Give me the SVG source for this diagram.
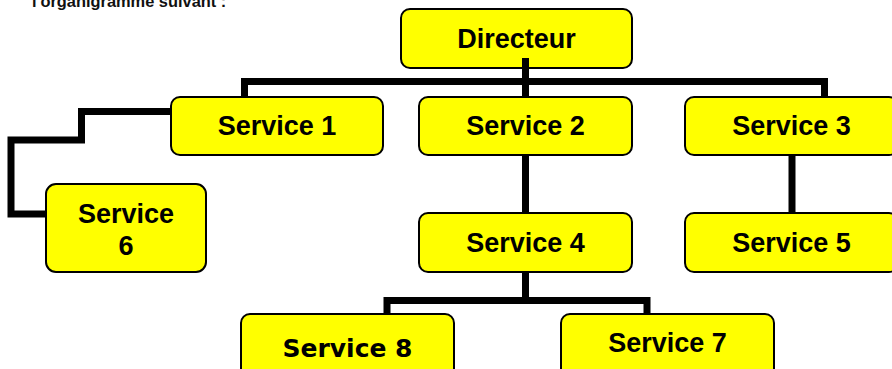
<svg xmlns="http://www.w3.org/2000/svg" width="892" height="369" viewBox="0 0 892 369">
<style>
.box{fill:#FFFF00;stroke:#000;stroke-width:2}
.lbl{font-family:"Liberation Sans",Arial,sans-serif;font-weight:bold;font-size:27px;fill:#000;text-anchor:middle}
.comic{font-family:"Comic Sans MS","DejaVu Sans",sans-serif;font-weight:bold;font-size:25px;fill:#000;text-anchor:middle}
.conn{fill:none;stroke:#000;stroke-width:7;stroke-linejoin:miter}
</style>
<rect width="892" height="369" fill="#fff"/>
<text x="32" y="7" font-family="Liberation Sans,Arial,sans-serif" font-weight="bold" font-size="16.4" fill="#111">l'organigramme suivant :</text>
<g id="directeur"><rect class="box" x="401" y="9" width="231" height="59" rx="9"/><text class="lbl" x="516.5" y="48">Directeur</text></g>
<g id="service1"><rect class="box" x="171" y="97" width="212" height="58" rx="9"/><text class="lbl" x="277" y="135">Service 1</text></g>
<g id="service2"><rect class="box" x="419" y="97" width="213" height="58" rx="9"/><text class="lbl" x="525.5" y="135">Service 2</text></g>
<g id="service3"><rect class="box" x="685" y="97" width="213" height="58" rx="9"/><text class="lbl" x="791.5" y="135">Service 3</text></g>
<g id="service4"><rect class="box" x="419" y="213" width="213" height="59" rx="9"/><text class="lbl" x="525.5" y="252">Service 4</text></g>
<g id="service5"><rect class="box" x="685" y="213" width="213" height="59" rx="9"/><text class="lbl" x="791.5" y="252">Service 5</text></g>
<g id="service6"><rect class="box" x="46" y="184" width="160" height="88" rx="10"/><text class="lbl" x="126" y="223">Service</text><text class="lbl" x="126" y="255">6</text></g>
<g id="service8"><rect class="box" x="241" y="314" width="213" height="70" rx="9"/><text class="comic" x="347.5" y="357">Service 8</text></g>
<g id="service7"><rect class="box" x="561" y="314" width="213" height="70" rx="9"/><text class="lbl" x="667.5" y="352">Service 7</text></g>
<g id="connectors">
<path class="conn" d="M525.5,58 V97"/>
<path class="conn" d="M244.5,97 V81.5 H824.5 V97"/>
<path class="conn" d="M525.5,155 V213"/>
<path class="conn" d="M792,155 V213"/>
<path class="conn" d="M525.5,272 V300.5"/>
<path class="conn" d="M387,314 V300.5 H647 V314"/>
<path class="conn" d="M171,111.5 H81.5 V140 H11 V214 H46"/>
</g>
</svg>
